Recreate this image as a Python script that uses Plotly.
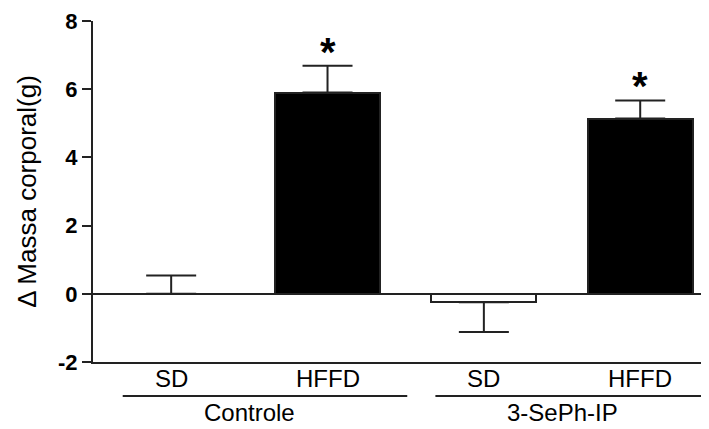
import plotly.graph_objects as go

# Data
diets = ["SD", "HFFD", "SD", "HFFD"]
groups = ["Controle", "3-SePh-IP"]
means = [0.0, 5.90, -0.25, 5.14]
sem_up = [0.54, 0.79, 0.0, 0.53]
sem_down = [0.0, 0.0, 0.87, 0.0]
significant = [False, True, False, True]
y_ticks = [-2, 0, 2, 4, 6, 8]

xpos = list(range(len(diets)))
fills = ["white" if d == "SD" else "black" for d in diets]
INK = "#222222"
FONT = "Liberation Sans, Arial, sans-serif"

fig = go.Figure()
fig.add_trace(go.Bar(
    x=xpos, y=means, width=0.67,
    marker=dict(color=fills, line=dict(color=INK, width=2)),
    error_y=dict(type="data", symmetric=False, array=sem_up, arrayminus=sem_down,
                 color=INK, thickness=2, width=25),
    showlegend=False, hoverinfo="skip",
))

# significance stars
for i, s in enumerate(significant):
    if s:
        fig.add_annotation(x=xpos[i], y=means[i] + sem_up[i], xref="x", yref="y",
                           text="<b>*</b>", showarrow=False, yanchor="bottom",
                           yshift=-10, font=dict(size=40, color="black", family=FONT))

# diet labels under each bar
for i, d in enumerate(diets):
    fig.add_annotation(x=xpos[i], y=-0.047, xref="x", yref="paper",
                       text=d, showarrow=False, yanchor="middle",
                       font=dict(size=24, color="black", family=FONT))

# group labels and lines
for g, name in enumerate(groups):
    a, b = 2 * g, 2 * g + 1
    fig.add_shape(type="line", xref="x", yref="paper",
                  x0=a - 0.31, x1=b + 0.51 - (0.09 if g else 0), y0=-0.10, y1=-0.10,
                  line=dict(color=INK, width=2))
    fig.add_annotation(x=(a + b) / 2, y=-0.193, xref="x", yref="paper",
                       text=name, showarrow=False, yanchor="bottom",
                       font=dict(size=24, color="black", family=FONT))

# page body has an 8px margin: figure is sized so it ends at the window edge
fig.update_layout(
    width=701, height=421,
    margin=dict(l=85, r=0, t=13, b=67),
    plot_bgcolor="white", paper_bgcolor="white",
    font=dict(family=FONT, color="black"),
    bargap=0,
    xaxis=dict(range=[-0.5, 3.44], showticklabels=False,
               showline=True, linecolor=INK, linewidth=2, ticks="",
               showgrid=False, zeroline=False),
    yaxis=dict(range=[-2, 8], tickvals=y_ticks, ticktext=[f"<b>{t}</b>" for t in y_ticks],
               showline=True, linecolor=INK, linewidth=2,
               ticks="outside", ticklen=9, tickwidth=2, tickcolor=INK,
               showgrid=False, zeroline=True, zerolinecolor=INK, zerolinewidth=2,
               tickfont=dict(size=22, family=FONT, color="black"),
               title=dict(text="Δ Massa corporal(g)", standoff=14,
                          font=dict(size=26, family=FONT, color="black"))),
)

fig.write_html("out.html")
